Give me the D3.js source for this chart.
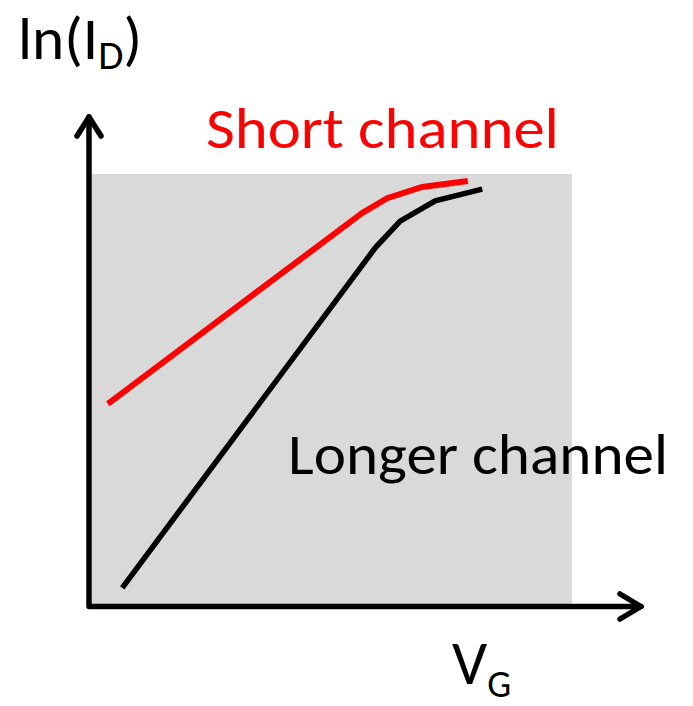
<!DOCTYPE html>
<html>
<head>
<meta charset="utf-8">
<script src="https://cdn.jsdelivr.net/npm/d3@7"></script>
<style>
  html, body { margin: 0; padding: 0; background: #fff; }
  svg { display: block; }
  text { font-family: Carlito, Calibri, Lato, "Open Sans", sans-serif; }
</style>
</head>
<body>
<svg id="chart" width="693" height="706"></svg>
<script>
// Gate voltage (arbitrary units) and ln(I_D) (arbitrary units) for each curve
const shortVG   = [0.33, 5.63, 6.15, 6.88, 7.83];
const shortLnID = [4.68, 9.10, 9.44, 9.70, 9.84];
const longVG    = [0.63, 5.90, 6.42, 7.15, 8.13];
const longLnID  = [0.42, 8.29, 8.91, 9.38, 9.65];

const seriesNames  = ["Short channel", "Longer channel"];
const seriesColors = ["#ff0000", "#000000"];

const svg = d3.select("#chart");

const x = d3.scaleLinear().domain([0, 10]).range([92, 572]);
const y = d3.scaleLinear().domain([0, 10]).range([606, 174]);

// shaded plotting region
svg.append("rect")
  .attr("x", x(0)).attr("y", y(10))
  .attr("width", x(10) - x(0)).attr("height", y(0) - y(10))
  .attr("fill", "#d9d9d9");

const line = d3.line().x(d => x(d[0])).y(d => y(d[1]));

const series = [
  { name: seriesNames[0], color: seriesColors[0], width: 6, pts: d3.zip(shortVG, shortLnID) },
  { name: seriesNames[1], color: seriesColors[1], width: 5.5, pts: d3.zip(longVG, longLnID) }
];

svg.selectAll("path.curve")
  .data(series)
  .join("path")
  .attr("class", "curve")
  .attr("d", d => line(d.pts))
  .attr("fill", "none")
  .attr("stroke", d => d.color)
  .attr("stroke-width", d => d.width)
  .attr("stroke-linejoin", "miter")
  .attr("stroke-linecap", "butt");

// axes with arrowheads
const axisG = svg.append("g")
  .attr("fill", "none").attr("stroke", "#000")
  .attr("stroke-width", 5.5)
  .attr("stroke-linecap", "round").attr("stroke-linejoin", "round");

const x0 = 89, y0 = 606.5;
axisG.append("path").attr("d", `M${x0},117 L${x0},${y0} L641,${y0}`);
axisG.append("path").attr("d", `M77,136 L${x0},117 L101,136`);
axisG.append("path").attr("d", `M620,594 L641,${y0} L620,619`);

// labels
svg.append("text")
  .attr("x", 206).attr("y", 148)
  .attr("font-size", 57).attr("fill", seriesColors[0])
  .attr("textLength", 353).attr("lengthAdjust", "spacingAndGlyphs")
  .text(seriesNames[0]);

svg.append("text")
  .attr("x", 288).attr("y", 474)
  .attr("font-size", 57).attr("fill", seriesColors[1])
  .attr("textLength", 380).attr("lengthAdjust", "spacingAndGlyphs")
  .text(seriesNames[1]);

const yLab = svg.append("text")
  .attr("x", 18).attr("y", 59)
  .attr("font-size", 60).attr("fill", "#000")
  .attr("textLength", 124).attr("lengthAdjust", "spacingAndGlyphs");
yLab.append("tspan").text("ln(I");
yLab.append("tspan").attr("font-size", 40).attr("dy", 10).text("D");
yLab.append("tspan").attr("dy", -10).text(")");

const xLab = svg.append("text")
  .attr("x", 452).attr("y", 684)
  .attr("font-size", 62).attr("fill", "#000");
xLab.append("tspan").text("V");
xLab.append("tspan").attr("font-size", 38).attr("dy", 13).text("G");
</script>
</body>
</html>
